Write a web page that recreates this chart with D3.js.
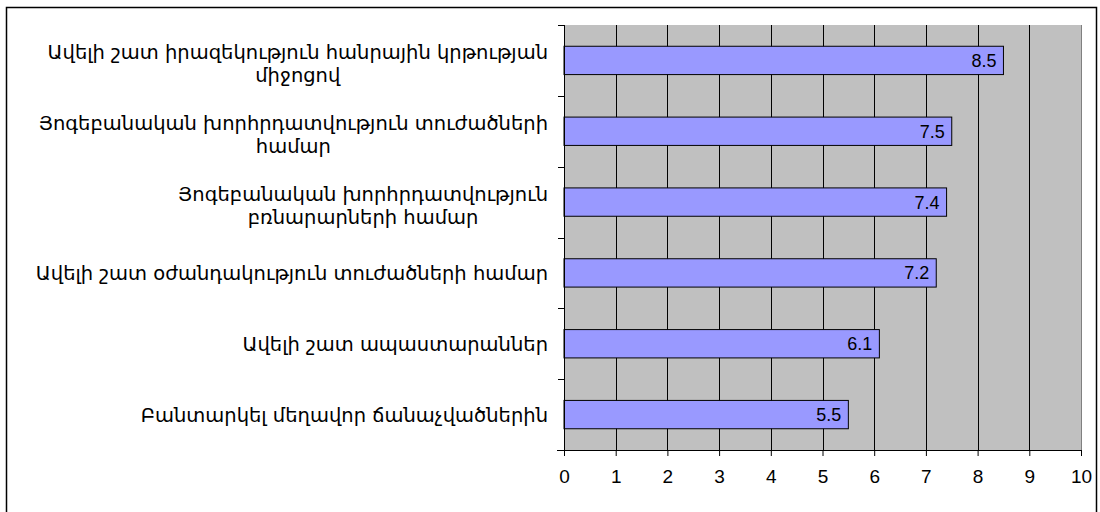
<!DOCTYPE html>
<html>
<head>
<meta charset="utf-8">
<script src="https://cdn.jsdelivr.net/npm/d3@7"></script>
<style>
  body { margin: 0; background: #fff; }
  svg text { font-family: "Liberation Sans", Arial, "DejaVu Sans", sans-serif; }
  .cat text { font-family: "DejaVu Sans", sans-serif; }
</style>
</head>
<body>
<svg id="chart" width="1100" height="512"></svg>
<script>
(function (d3) {
    'use strict';

    // categories, top to bottom; each entry holds its wrapped lines
    var categories = [
        ['Ավելի շատ իրազեկություն հանրային կրթության', 'միջոցով'],
        ['Յոգեբանական խորհրդատվություն տուժածների', 'համար'],
        ['Յոգեբանական խորհրդատվություն', 'բռնարարների համար'],
        ['Ավելի շատ օժանդակություն տուժածների համար'],
        ['Ավելի շատ ապաստարաններ'],
        ['Բանտարկել մեղավոր ճանաչվածներին']
    ];
    var values = [8.5, 7.5, 7.4, 7.2, 6.1, 5.5];
    var xTicks = [0, 1, 2, 3, 4, 5, 6, 7, 8, 9, 10];

    var svg = d3.select('#chart');
    var left = 564, right = 1081, top = 25, bottom = 450;

    // outer chart border
    svg.append('rect')
        .attr('x', 6.5).attr('y', 7.5)
        .attr('width', 1090).attr('height', 520)
        .attr('fill', 'none').attr('stroke', '#000').attr('stroke-width', 1.5);

    var x = d3.scaleLinear().domain([0, 10]).range([left, right]);
    var y = d3.scaleBand().domain(d3.range(categories.length))
        .range([top, bottom]).paddingInner(0.6).paddingOuter(0.3);
    var yEdges = d3.scaleLinear().domain([0, categories.length]).range([top, bottom]);

    // plot area
    svg.append('rect')
        .attr('x', left).attr('y', top)
        .attr('width', right - left).attr('height', bottom - top)
        .attr('fill', '#C0C0C0');

    // vertical gridlines
    svg.append('g').selectAll('line')
        .data(xTicks.slice(1, -1)).enter()
      .append('line')
        .attr('x1', function (d) { return Math.round(x(d)) + 0.5; })
        .attr('x2', function (d) { return Math.round(x(d)) + 0.5; })
        .attr('y1', top).attr('y2', bottom)
        .attr('stroke', '#000').attr('stroke-width', 1);

    // right edge of plot area
    svg.append('line')
        .attr('x1', right + 0.5).attr('x2', right + 0.5)
        .attr('y1', top).attr('y2', bottom)
        .attr('stroke', '#808080').attr('stroke-width', 1);

    // bars
    svg.append('g').selectAll('rect')
        .data(values).enter()
      .append('rect')
        .attr('x', x(0))
        .attr('y', function (d, i) { return y(i); })
        .attr('width', function (d) { return x(d) - x(0); })
        .attr('height', y.bandwidth())
        .attr('fill', '#9999FF')
        .attr('stroke', '#000').attr('stroke-width', 1);

    // value labels
    svg.append('g').selectAll('text')
        .data(values).enter()
      .append('text')
        .attr('x', function (d) { return x(d) - 7; })
        .attr('y', function (d, i) { return y(i) + y.bandwidth() / 2 + 6.5; })
        .attr('text-anchor', 'end')
        .attr('font-size', 18)
        .text(function (d) { return d3.format('.1f')(d); });

    // x axis
    var xAxis = d3.axisBottom(x).tickValues(xTicks).tickSize(6).tickPadding(14)
        .tickFormat(d3.format('d'));
    var gx = svg.append('g')
        .attr('transform', 'translate(0,' + bottom + ')')
        .call(xAxis);
    gx.select('.domain').remove();
    gx.append('line')
        .attr('x1', left - 7).attr('x2', right).attr('y1', 0.5).attr('y2', 0.5)
        .attr('stroke', '#000');
    gx.selectAll('.tick line').attr('stroke', '#000');
    gx.selectAll('.tick text')
        .attr('font-size', 19)
        .attr('font-family', '"Liberation Sans", Arial, sans-serif')
        .attr('fill', '#000');

    // y axis line and ticks at category edges
    svg.append('line')
        .attr('x1', left + 0.5).attr('x2', left + 0.5)
        .attr('y1', top).attr('y2', bottom + 6)
        .attr('stroke', '#000');
    svg.append('g').selectAll('line')
        .data(d3.range(categories.length)).enter()
      .append('line')
        .attr('x1', left - 6).attr('x2', left)
        .attr('y1', function (d) { return Math.round(yEdges(d)) + 0.5; })
        .attr('y2', function (d) { return Math.round(yEdges(d)) + 0.5; })
        .attr('stroke', '#000');

    // category labels: block right-aligned, lines centred on each other
    var labelRight = 548, lineH = 23;
    categories.forEach(function (lines, i) {
        var g = svg.append('g').attr('class', 'cat');
        var cy = y(i) + y.bandwidth() / 2;
        var texts = lines.map(function (t, j) {
            return g.append('text')
                .attr('font-size', 19.5)
                .attr('x', 0)
                .attr('text-anchor', 'middle')
                .attr('y', cy + 7 + (j - (lines.length - 1) / 2) * lineH + (lines.length > 1 ? 3 : 0))
                .text(t);
        });
        var bb = g.node().getBBox();
        // shift the whole block so its right edge sits at labelRight
        g.attr('transform', 'translate(' + (labelRight - (bb.x + bb.width)) + ',0)');
    });

}(window.d3));
</script>
</body>
</html>
